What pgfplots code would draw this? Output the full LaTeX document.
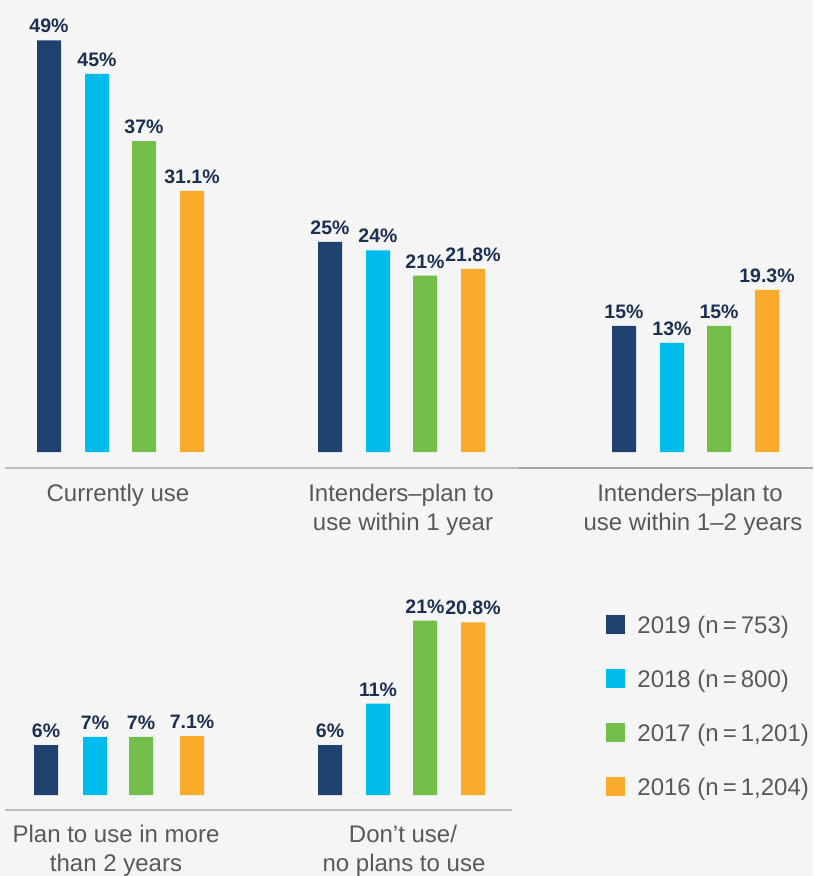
\documentclass[border=0pt]{standalone}
\usepackage{fontspec}
\setmainfont{Liberation Sans}
\usepackage{pgfplots}
\pgfplotsset{compat=1.18}

\definecolor{c2019}{HTML}{1F4170}
\definecolor{c2018}{HTML}{00BCEB}
\definecolor{c2017}{HTML}{74BF4B}
\definecolor{c2016}{HTML}{FBAB2C}
\definecolor{valcol}{HTML}{1B2F52}
\definecolor{labcol}{HTML}{595959}
\definecolor{bgcol}{HTML}{F5F5F5}
\definecolor{rulecol}{HTML}{BDBDBD}

% 1 px of the reference = 0.5pt; origin at the top left corner
\pgfplotsset{
  barrow/.style={
    x=0.5pt, xmin=0, xmax=813, hide axis, clip=false, anchor=south west,
    ybar, bar shift=0pt, bar width=12pt,
    /pgf/number format/assume math mode=true,
    nodes near coords={\pgfmathprintnumber{\pgfplotspointmeta}\%},
    every node near coord/.append style={font=\bfseries\fontsize{9.75}{12}\selectfont,
      text=valcol, inner sep=0pt, yshift=3.5pt},
  },
}

\begin{document}
\begin{tikzpicture}
\path[use as bounding box] (0,0) rectangle (406.5pt,-438pt);
\fill[bgcol] (0,0) rectangle (406.5pt,-438pt);

% top row
\begin{axis}[barrow, at={(0pt,-234pt)}, y=4.2pt, ymin=-1.905, ymax=54]
  \addplot[fill=c2019, draw=none] coordinates {(49,49) (330,25) (624,15)};
  \addplot[fill=c2018, draw=none] coordinates {(97,45) (378,24) (672,13)};
  \addplot[fill=c2017, draw=none] coordinates {(144,37) (425,21) (719,15)};
  \addplot[fill=c2016, draw=none] coordinates {(192,31.1) (473,21.8) (767,19.3)};
  \draw[rulecol, line width=1pt] (axis cs:5,-1.905) -- (axis cs:518,-1.905);
  \draw[black!35, line width=1pt] (axis cs:518,-1.905) -- (axis cs:813,-1.905);
\end{axis}

% bottom row
\begin{axis}[barrow, at={(0pt,-405pt)}, y=4.15pt, ymin=-1.807, ymax=25,
  legend cell align=left,
  legend image code/.code={\fill[#1] (0pt,-3.25pt) rectangle (9.5pt,6.25pt);},
  legend style={at={(0.7454,0.8787)}, anchor=north west, draw=none, fill=none,
    inner sep=0pt, row sep=14.75pt,
    nodes={inner sep=0pt, text height=9pt, text depth=3pt,
      font=\fontsize{12}{15}\selectfont, text=labcol},
    /tikz/every odd column/.append style={column sep=6pt}},
]
  \addplot[fill=c2019, draw=none] coordinates {(46,6) (330,6)};
  \addlegendentry{2019 (n\,=\,753)}
  \addplot[fill=c2018, draw=none] coordinates {(95,7) (378,11)};
  \addlegendentry{2018 (n\,=\,800)}
  \addplot[fill=c2017, draw=none] coordinates {(141,7) (425,21)};
  \addlegendentry{2017 (n\,=\,1,201)}
  \addplot[fill=c2016, draw=none] coordinates {(192,7.1) (473,20.8)};
  \addlegendentry{2016 (n\,=\,1,204)}
  \draw[rulecol, line width=1pt] (axis cs:5,-1.807) -- (axis cs:512,-1.807);
\end{axis}

% category labels
\begin{scope}[every node/.style={anchor=base, inner sep=0pt, text=labcol,
    font=\fontsize{12}{14}\selectfont}]
  \node at (59pt,-250.5pt) {Currently use};
  \node at (200.5pt,-250.5pt) {Intenders–plan to};
  \node at (201.5pt,-265pt) {use within 1 year};
  \node at (345pt,-250.5pt) {Intenders–plan to};
  \node at (346.5pt,-265pt) {use within 1–2 years};
  \node at (58pt,-421pt) {Plan to use in more};
  \node at (58pt,-435.5pt) {than 2 years};
  \node at (201.5pt,-421pt) {Don’t use/};
  \node at (202pt,-435.5pt) {no plans to use};
\end{scope}
\end{tikzpicture}
\end{document}
